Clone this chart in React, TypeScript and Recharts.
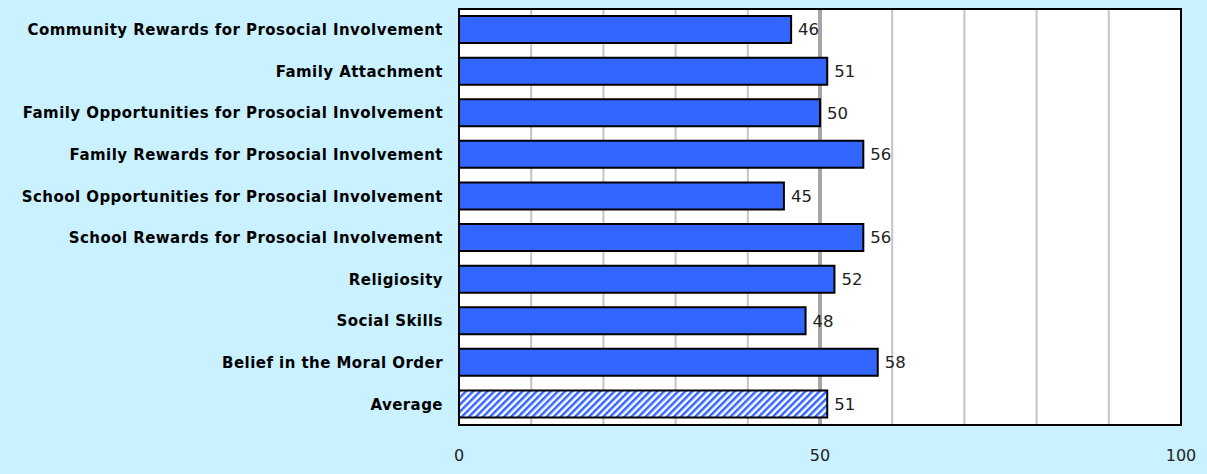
import { BarChart, Bar, XAxis, YAxis, CartesianGrid, Cell, LabelList, ReferenceArea } from 'recharts';

// Protective factor scores
const categories = [
  'Community Rewards for Prosocial Involvement',
  'Family Attachment',
  'Family Opportunities for Prosocial Involvement',
  'Family Rewards for Prosocial Involvement',
  'School Opportunities for Prosocial Involvement',
  'School Rewards for Prosocial Involvement',
  'Religiosity',
  'Social Skills',
  'Belief in the Moral Order',
  'Average',
];
const scores = [46, 51, 50, 56, 45, 56, 52, 48, 58, 51];
const xTicks = [0, 50, 100];
const gridTicks = [0, 10, 20, 30, 40, 50, 60, 70, 80, 90, 100];

const data = categories.map((name, i) => ({ name, value: scores[i] }));

const FONT = '"DejaVu Sans", sans-serif';

export default function App() {
  return (
    <div style={{ position: 'absolute', left: 0, top: 0, width: 1207, height: 474, background: '#C9F1FF' }}>
      <BarChart
        width={1207}
        height={474}
        data={data}
        layout="vertical"
        margin={{ top: 9, right: 26, left: 0, bottom: 10 }}
        barCategoryGap="17%"
      >
        <defs>
          <pattern id="hatch" patternUnits="userSpaceOnUse" width="5" height="5" patternTransform="rotate(45)">
            <rect width="5" height="5" fill="#ffffff" />
            <rect width="2.5" height="5" fill="#3366FF" />
          </pattern>
        </defs>
        <CartesianGrid
          horizontal={false}
          vertical={true}
          stroke="#C4C4C4"
          strokeWidth={2}
          fill="#ffffff"
          verticalValues={gridTicks}
        />
        {/* heavier line at the midpoint, drawn behind the bars */}
        <CartesianGrid
          horizontal={false}
          vertical={true}
          stroke="#A6A6A6"
          strokeWidth={4}
          verticalValues={[50]}
        />
        <XAxis
          type="number"
          domain={[0, 100]}
          ticks={xTicks}
          axisLine={false}
          tickLine={false}
          tickMargin={19}
          height={39}
          tick={{ fontFamily: FONT, fontSize: 16, fill: '#222' }}
        />
        <YAxis
          type="category"
          dataKey="name"
          width={459}
          axisLine={false}
          tickLine={false}
          tickMargin={10}
          interval={0}
          tick={{ fontFamily: FONT, fontSize: 15, fontWeight: 'bold', fill: '#000', letterSpacing: 0.45 }}
        />
        <Bar dataKey="value" stroke="#000" strokeWidth={2} isAnimationActive={false}>
          {data.map((d, i) => (
            <Cell key={`c-${i}`} fill={d.name === 'Average' ? 'url(#hatch)' : '#3366FF'} />
          ))}
          <LabelList
            dataKey="value"
            position="right"
            offset={7}
            style={{ fontFamily: FONT, fontSize: 16.5, fill: '#222' }}
          />
        </Bar>
        <ReferenceArea x1={0} x2={100} fill="none" stroke="#000" strokeWidth={2} ifOverflow="visible" />
      </BarChart>
    </div>
  );
}
